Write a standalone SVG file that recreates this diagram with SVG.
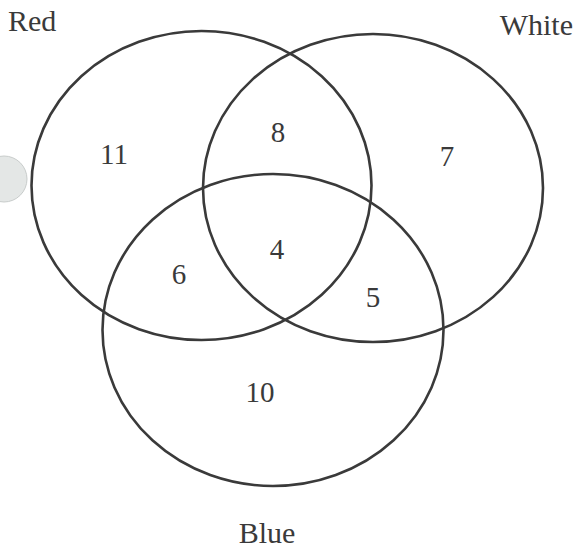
<svg xmlns="http://www.w3.org/2000/svg" width="575" height="550" viewBox="0 0 575 550">
<style>
.set{fill:none;stroke:#3a3a3a;stroke-width:2.6}
.lbl{font-family:"Liberation Serif","Times New Roman",serif;font-size:30px;fill:#3a3a3a}
.num{font-family:"Liberation Serif","Times New Roman",serif;font-size:29px;fill:#3a3a3a;text-anchor:middle}
</style>
<rect width="575" height="550" fill="#ffffff"/>
<circle cx="4" cy="179" r="23" fill="#e4e7e6" stroke="#c8cccb" stroke-width="1"/>
<g id="connectors"></g>
<g id="red"><ellipse class="set" cx="201.5" cy="185.5" rx="170" ry="154.5"/><text class="lbl" x="8" y="31">Red</text></g>
<g id="white"><ellipse class="set" cx="373" cy="188" rx="170" ry="154"/><text class="lbl" x="573" y="35" text-anchor="end">White</text></g>
<g id="blue"><ellipse class="set" cx="273" cy="330" rx="170.5" ry="156"/><text class="lbl" x="267" y="543" text-anchor="middle">Blue</text></g>
<g id="regions">
<text class="num" x="114" y="164">11</text>
<text class="num" x="278" y="142">8</text>
<text class="num" x="447" y="166">7</text>
<text class="num" x="277" y="259">4</text>
<text class="num" x="179" y="284">6</text>
<text class="num" x="373" y="307">5</text>
<text class="num" x="260" y="402">10</text>
</g>
</svg>
